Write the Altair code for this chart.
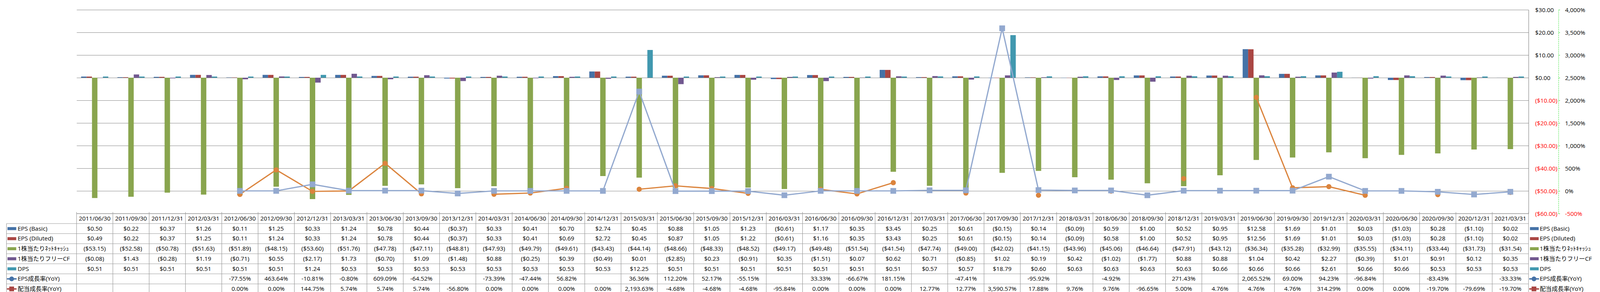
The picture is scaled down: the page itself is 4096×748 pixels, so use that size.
import altair as alt
import pandas as pd

S = 0.871
FONT = "'Open Sans', 'Noto Sans CJK JP', sans-serif"
FS = 15.3

dates = ["2011/06/30", "2011/09/30", "2011/12/31", "2012/03/31", "2012/06/30", "2012/09/30",
         "2012/12/31", "2013/03/31", "2013/06/30", "2013/09/30", "2013/12/31", "2014/03/31",
         "2014/06/30", "2014/09/30", "2014/12/31", "2015/03/31", "2015/06/30", "2015/09/30",
         "2015/12/31", "2016/03/31", "2016/06/30", "2016/09/30", "2016/12/31", "2017/03/31",
         "2017/06/30", "2017/09/30", "2017/12/31", "2018/03/31", "2018/06/30", "2018/09/30",
         "2018/12/31", "2019/03/31", "2019/06/30", "2019/09/30", "2019/12/31", "2020/03/31",
         "2020/06/30", "2020/09/30", "2020/12/31", "2021/03/31"]

series_bar = ["EPS (Basic)", "EPS (Diluted)", "1株当たりﾈｯﾄｷｬｯｼｭ", "1株当たりフリーCF", "DPS"]
series_line = ["EPS成長率(YoY)", "配当成長率(YoY)"]

eps_basic = [0.50, 0.22, 0.37, 1.26, 0.11, 1.25, 0.33, 1.24, 0.78, 0.44, -0.37, 0.33, 0.41, 0.70,
             2.74, 0.45, 0.88, 1.05, 1.23, -0.61, 1.17, 0.35, 3.45, 0.25, 0.61, -0.15, 0.14, -0.09,
             0.59, 1.00, 0.52, 0.95, 12.58, 1.69, 1.01, 0.03, -1.03, 0.28, -1.10, 0.02]
eps_diluted = [0.49, 0.22, 0.37, 1.25, 0.11, 1.24, 0.33, 1.24, 0.78, 0.44, -0.37, 0.33, 0.41, 0.69,
               2.72, 0.45, 0.87, 1.05, 1.22, -0.61, 1.16, 0.35, 3.43, 0.25, 0.61, -0.15, 0.14, -0.09,
               0.58, 1.00, 0.52, 0.95, 12.56, 1.69, 1.01, 0.03, -1.03, 0.28, -1.10, 0.02]
net_cash = [-53.15, -52.58, -50.78, -51.63, -51.89, -48.15, -53.60, -51.76, -47.78, -47.11, -48.81,
            -47.93, -49.79, -49.61, -43.43, -44.14, -48.66, -48.33, -48.52, -49.17, -49.48, -51.54,
            -41.54, -47.74, -49.00, -42.02, -41.15, -43.96, -45.06, -46.64, -47.91, -43.12, -36.34,
            -35.28, -32.99, -35.55, -34.11, -33.44, -31.73, -31.54]
fcf = [-0.08, 1.43, -0.28, 1.19, -0.71, 0.55, -2.17, 1.73, -0.70, 1.09, -1.48, 0.88, -0.25, 0.39,
       -0.49, 0.01, -2.85, 0.23, -0.91, 0.35, -1.51, 0.07, 0.62, 0.71, -0.85, 1.02, 0.19, 0.42,
       -1.02, -1.77, 0.88, 0.88, 1.04, 0.42, 2.27, -0.39, 1.01, 0.91, 0.12, 0.35]
dps = [0.51, 0.51, 0.51, 0.51, 0.51, 0.51, 1.24, 0.53, 0.53, 0.53, 0.53, 0.53, 0.53, 0.53, 0.53,
       12.25, 0.51, 0.51, 0.51, 0.51, 0.51, 0.51, 0.51, 0.57, 0.57, 18.79, 0.60, 0.63, 0.63, 0.63,
       0.63, 0.66, 0.66, 0.66, 2.61, 0.66, 0.66, 0.53, 0.53, 0.53]
eps_growth = [None, None, None, None, -77.55, 463.64, -10.81, -0.80, 609.09, -64.52, None, -73.39,
              -47.44, 56.82, None, 36.36, 112.20, 52.17, -55.15, None, 33.33, -66.67, 181.15, None,
              -47.41, None, -95.92, None, -4.92, None, 271.43, None, 2065.52, 69.00, 94.23, -96.84,
              None, -83.43, None, -33.33]
div_growth = [None, None, None, None, 0.00, 0.00, 144.75, 5.74, 5.74, 5.74, -56.80, 0.00, 0.00, 0.00,
              0.00, 2193.63, -4.68, -4.68, -4.68, -95.84, 0.00, 0.00, 0.00, 12.77, 12.77, 3590.57,
              17.88, 9.76, 9.76, -96.65, 5.00, 4.76, 4.76, 4.76, 314.29, 0.00, 0.00, -19.70, -79.69,
              -19.70]

money_ticks = [-60, -50, -40, -30, -20, -10, 0, 10, 20, 30]
pct_ticks = [-5, 0, 5, 10, 15, 20, 25, 30, 35, 40]  # fractions: -500% .. 4000%

bar_colors = ["#4572A7", "#AA4643", "#89A54E", "#71588F", "#4198AF"]
line_colors = ["#DB843D", "#93A9CF"]
all_series = series_bar + series_line
all_colors = bar_colors + line_colors

# ---------- layout constants (reference px * S) ----------
W = 3717
H = 522
HT = 206
NROWS = 8
GRID = "#868686"
TLINE = "#9a9a9a"


def fmt_money(v):
    return f"${v:,.2f}" if v >= 0 else f"(${abs(v):,.2f})"


def fmt_pct(v):
    return f"{v:,.2f}%"


# ---------- main plot data ----------
bar_rows = []
for name, vals in zip(series_bar, [eps_basic, eps_diluted, net_cash, fcf, dps]):
    for d, v in zip(dates, vals):
        bar_rows.append({"date": d, "series": name, "value": v})
bar_df = pd.DataFrame(bar_rows)

line_rows = []
for name, vals in zip(series_line, [eps_growth, div_growth]):
    for d, v in zip(dates, vals):
        line_rows.append({"date": d, "series": name, "pct": None if v is None else v / 100.0})
line_df = pd.DataFrame(line_rows)

x_enc = alt.X("date:N", scale=alt.Scale(domain=dates, paddingInner=0, paddingOuter=0), axis=None)

y_money = alt.Y(
    "value:Q",
    scale=alt.Scale(domain=[-60, 30], nice=False, zero=False),
    axis=alt.Axis(
        orient="right", values=money_ticks, format="($.2f", grid=True, gridColor=GRID,
        gridWidth=1.2, domain=True, domainColor=GRID, domainWidth=1.2, ticks=False, tickSize=0,
        labelPadding=16.5, labelAlign="left",
        labelColor={"condition": {"test": "datum.value < 0", "value": "#FF0000"}, "value": "#000000"},
        title=None,
    ),
)

bars = alt.Chart(bar_df).mark_bar().encode(
    x=x_enc,
    xOffset=alt.XOffset("series:N", scale=alt.Scale(domain=series_bar, paddingInner=0, paddingOuter=0.833)),
    y=y_money,
    color=alt.Color("series:N", scale=alt.Scale(domain=series_bar, range=bar_colors), legend=None),
)

y_pct = alt.Y(
    "pct:Q",
    scale=alt.Scale(domain=[-5, 40], nice=False, zero=False),
    axis=alt.Axis(
        orient="right", offset=76.6, values=pct_ticks, grid=False, domain=True,
        domainColor="#22DD22", domainDash=[3, 2], domainWidth=1, ticks=True, tickColor="#22DD22",
        tickSize=3.5, tickWidth=1, labelPadding=13, labelAlign="left",
        labelExpr="replace(format(datum.value, ',.0%'), '\u2212', '-')",
        labelColor={"condition": {"test": "datum.value < 0", "value": "#FF0000"}, "value": "#000000"},
        title=None,
    ),
)

line_layers = []
for name, col, shape, size in zip(series_line, line_colors, ["circle", "square"], [175, 215]):
    base = alt.Chart(line_df).transform_filter(alt.datum.series == name)
    line_layers.append(base.mark_line(color=col, strokeWidth=3.2).encode(x=x_enc, y=y_pct))
    line_layers.append(
        base.transform_filter("isValid(datum.pct)")
        .mark_point(filled=True, shape=shape, size=size, color=col, opacity=1)
        .encode(x=x_enc, y=y_pct)
    )

main = alt.layer(bars, alt.layer(*line_layers)).resolve_scale(y="independent").properties(width=W, height=H)

# ---------- data table ----------
N = len(dates)
L = 1.931  # label column width in column units
xq = alt.Scale(domain=[0, N], nice=False, zero=False)
yq = alt.Scale(domain=[0, NROWS], nice=False, zero=False, reverse=True)

table_rows = [
    (series_bar[0], eps_basic, fmt_money),
    (series_bar[1], eps_diluted, fmt_money),
    (series_bar[2], net_cash, fmt_money),
    (series_bar[3], fcf, fmt_money),
    (series_bar[4], dps, fmt_money),
    (series_line[0], eps_growth, fmt_pct),
    (series_line[1], div_growth, fmt_pct),
]

cells = []
for i, d in enumerate(dates):
    cells.append({"u": i + 0.5, "r": 0.5, "t": d})
for k, (name, vals, f) in enumerate(table_rows, start=1):
    for i, v in enumerate(vals):
        if v is not None:
            cells.append({"u": i + 0.5, "r": k + 0.5, "t": f(v)})
cells_df = pd.DataFrame(cells)

lines = []
lines.append({"u": 0, "u2": N, "r": 0, "r2": 0})
for k in range(1, NROWS + 1):
    lines.append({"u": -L, "u2": N, "r": k, "r2": k})
for i in range(N + 1):
    lines.append({"u": i, "u2": i, "r": -0.15, "r2": NROWS})
lines.append({"u": -L, "u2": -L, "r": 1, "r2": NROWS})
lines_df = pd.DataFrame(lines)

labels = []
keys_rect = []
keys_line = []
keys_pt = []
for side, tx, kx1, kx2, lx1, lx2, mx in [
    ("left", -1.621, -1.903, -1.662, -1.918, -1.652, -1.788),
    ("right", 40.31, 40.04, 40.28, 40.02, 40.29, 40.15),
]:
    for k, name in enumerate(all_series, start=1):
        labels.append({"u": tx, "r": k + 0.5, "t": name})
        if name in series_bar:
            keys_rect.append({"u": kx1, "u2": kx2, "r": k + 0.35, "r2": k + 0.65, "series": name})
        else:
            keys_line.append({"u": lx1, "u2": lx2, "r": k + 0.5, "series": name})
            keys_pt.append({"u": mx, "r": k + 0.5, "series": name})

color_all = alt.Color("series:N", scale=alt.Scale(domain=all_series, range=all_colors), legend=None)

t_lines = alt.Chart(lines_df).mark_rule(color=TLINE, strokeWidth=1.2).encode(
    x=alt.X("u:Q", scale=xq, axis=None), x2="u2:Q",
    y=alt.Y("r:Q", scale=yq, axis=None), y2="r2:Q",
)
t_cells = alt.Chart(cells_df).mark_text(font=FONT, fontSize=FS, color="#000000", align="center",
                                        baseline="middle").encode(
    x=alt.X("u:Q", scale=xq, axis=None), y=alt.Y("r:Q", scale=yq, axis=None), text="t:N"
)
t_labels = alt.Chart(pd.DataFrame(labels)).mark_text(font=FONT, fontSize=FS, color="#000000",
                                                     align="left", baseline="middle").encode(
    x=alt.X("u:Q", scale=xq, axis=None), y=alt.Y("r:Q", scale=yq, axis=None), text="t:N"
)
t_keys = alt.Chart(pd.DataFrame(keys_rect)).mark_rect().encode(
    x=alt.X("u:Q", scale=xq, axis=None), x2="u2:Q",
    y=alt.Y("r:Q", scale=yq, axis=None), y2="r2:Q", color=color_all,
)
t_klines = alt.Chart(pd.DataFrame(keys_line)).mark_rule(strokeWidth=3.5).encode(
    x=alt.X("u:Q", scale=xq, axis=None), x2="u2:Q",
    y=alt.Y("r:Q", scale=yq, axis=None), color=color_all,
)
t_kpts = alt.Chart(pd.DataFrame(keys_pt)).mark_point(filled=True, opacity=1, size=150).encode(
    x=alt.X("u:Q", scale=xq, axis=None), y=alt.Y("r:Q", scale=yq, axis=None), color=color_all,
    shape=alt.Shape("series:N", scale=alt.Scale(domain=series_line, range=["circle", "square"]), legend=None),
)

table = alt.layer(t_lines, t_cells, t_labels, t_keys, t_klines, t_kpts).properties(width=W, height=HT)

chart = (
    alt.vconcat(main, table, spacing=0, bounds="flush")
    .properties(padding={"left": 7, "right": 2, "top": 10, "bottom": 0})
    .configure_view(stroke=None)
    .configure_axis(labelFont=FONT, labelFontSize=FS)
)

chart.save("out.html", embed_options={"renderer": "svg", "actions": False})
